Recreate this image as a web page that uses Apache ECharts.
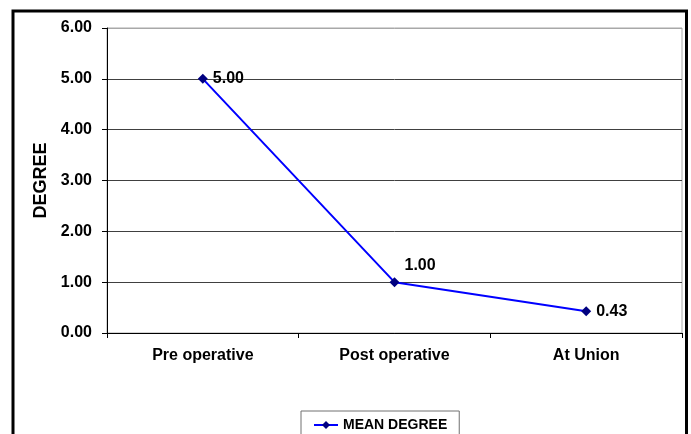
<!DOCTYPE html>
<html>
<head>
<meta charset="utf-8">
<script src="https://cdn.jsdelivr.net/npm/echarts@6/dist/echarts.min.js"></script>
<style>
html,body{margin:0;padding:0;background:#fff;}
#chart{width:691px;height:434px;}
</style>
</head>
<body>
<div id="chart"></div>
<script>
var categories = ['Pre operative', 'Post operative', 'At Union'];
var meanDegree = [5.00, 1.00, 0.43];
var seriesName = 'MEAN DEGREE';
var yAxisName = 'DEGREE';

var chart = echarts.init(document.getElementById('chart'), null, {renderer: 'canvas'});
var font = 'Liberation Sans, Arial, sans-serif';
var option = {
  animation: false,
  backgroundColor: '#ffffff',
  graphic: [{
    type: 'rect',
    z: 100,
    shape: {x: 13, y: 11, width: 673.5, height: 500},
    style: {fill: 'none', stroke: '#000', lineWidth: 3}
  }],
  grid: {
    left: 107, right: 9, top: 28, bottom: 101,
    show: true, borderColor: '#a8a8a8', borderWidth: 1
  },
  legend: {
    bottom: -10, left: 301,
    data: [seriesName],
    itemWidth: 24, itemHeight: 10,
    padding: [7, 12, 12, 12],
    borderColor: '#707070', borderWidth: 1,
    textStyle: {fontFamily: font, fontWeight: 'bold', fontSize: 14, color: '#000'}
  },
  xAxis: {
    type: 'category',
    data: categories,
    boundaryGap: true,
    axisLine: {lineStyle: {color: '#000', width: 1}},
    axisTick: {show: true, length: 5, lineStyle: {color: '#000'}},
    axisLabel: {fontFamily: font, fontWeight: 'bold', fontSize: 16, color: '#000', margin: 15},
    splitLine: {show: false}
  },
  yAxis: {
    type: 'value',
    min: 0, max: 6, interval: 1,
    name: yAxisName,
    nameLocation: 'middle',
    nameGap: 51,
    nameTextStyle: {fontFamily: font, fontWeight: 'bold', fontSize: 18, color: '#000'},
    axisLine: {show: true, lineStyle: {color: '#000', width: 1}},
    axisTick: {show: true, length: 5, lineStyle: {color: '#000'}},
    axisLabel: {fontFamily: font, fontWeight: 'bold', fontSize: 16, color: '#000', margin: 15,
      formatter: function (v) { return v.toFixed(2); }},
    splitLine: {show: true, lineStyle: {color: ['#000', '#404040', '#404040', '#404040', '#404040', '#404040', '#a8a8a8'], width: 1}}
  },
  series: [{
    name: seriesName,
    type: 'line',
    data: meanDegree.map(function (v, i) {
      var d = {value: v};
      if (i === 1) d.label = {offset: [0, -17]};
      return d;
    }),
    symbol: 'diamond',
    symbolSize: 10,
    itemStyle: {color: '#000080'},
    lineStyle: {color: '#0000ff', width: 2},
    label: {
      show: true, position: 'right', distance: 5,
      fontFamily: font, fontWeight: 'bold', fontSize: 16, color: '#000',
      formatter: function (p) { return p.value.toFixed(2); }
    }
  }]
};
chart.setOption(option);
</script>
</body>
</html>
